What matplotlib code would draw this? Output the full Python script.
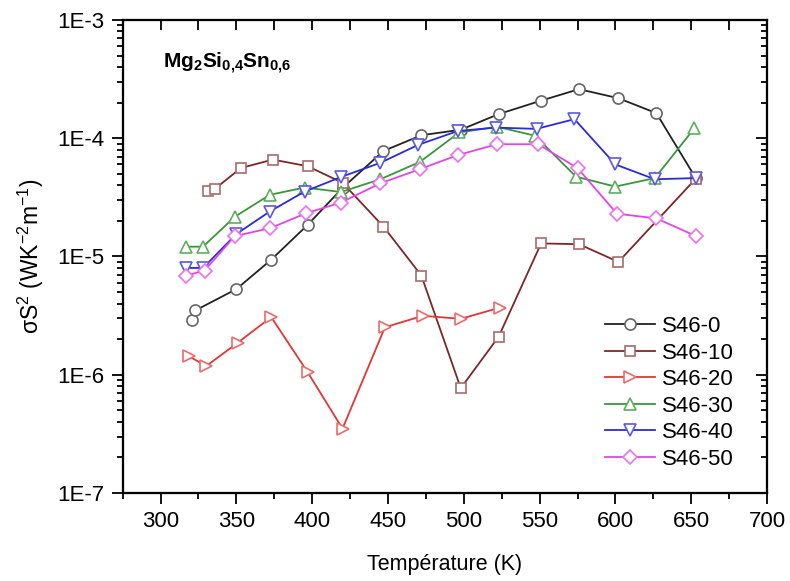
import matplotlib
matplotlib.use("Agg")
import matplotlib.pyplot as plt
from matplotlib.ticker import LogLocator, MultipleLocator, FixedLocator, FixedFormatter, NullFormatter

plt.rcParams['font.family'] = ['Liberation Sans', 'DejaVu Sans']
plt.rcParams['mathtext.fontset'] = 'custom'
plt.rcParams['mathtext.rm'] = 'Liberation Sans'
plt.rcParams['mathtext.it'] = 'Liberation Sans:italic'
plt.rcParams['mathtext.bf'] = 'Liberation Sans:bold'

labels = ["S46-0", "S46-10", "S46-20", "S46-30", "S46-40", "S46-50"]

T0 = [321, 323, 350, 373, 397, 420, 447, 472, 498, 523, 551, 576, 602, 627, 653]
v0 = [2.9e-6, 3.5e-6, 5.3e-6, 9.4e-6, 1.85e-5, 3.8e-5, 7.8e-5, 1.06e-4, 1.18e-4, 1.6e-4,
      2.08e-4, 2.6e-4, 2.18e-4, 1.63e-4, 4.6e-5]

T1 = [331, 336, 353, 374, 397, 420, 447, 472, 498, 523, 551, 576, 602, 653]
v1 = [3.6e-5, 3.75e-5, 5.6e-5, 6.6e-5, 5.8e-5, 4.2e-5, 1.79e-5, 6.9e-6, 7.7e-7, 2.1e-6,
      1.29e-5, 1.27e-5, 9.0e-6, 4.55e-5]

T2 = [319, 330, 351, 373, 397, 420, 448, 473, 498, 524]
v2 = [1.43e-6, 1.18e-6, 1.87e-6, 3.07e-6, 1.05e-6, 3.5e-7, 2.52e-6, 3.15e-6, 2.97e-6, 3.7e-6]

T3 = [317, 328, 349, 372, 395, 419, 445, 471, 497, 522, 547, 574, 600, 626, 652]
v3 = [1.21e-5, 1.21e-5, 2.17e-5, 3.32e-5, 3.83e-5, 3.51e-5, 4.5e-5, 6.3e-5, 1.12e-4, 1.25e-4,
      1.05e-4, 4.73e-5, 3.9e-5, 4.6e-5, 1.21e-4]

T4 = [317, 328, 350, 372, 395, 419, 445, 470, 496, 521, 548, 573, 600, 626, 653]
v4 = [8.0e-6, 8.0e-6, 1.55e-5, 2.4e-5, 3.54e-5, 4.7e-5, 6.2e-5, 8.8e-5, 1.15e-4, 1.23e-4,
      1.2e-4, 1.45e-4, 6.0e-5, 4.5e-5, 4.6e-5]

T5 = [317, 329, 349, 372, 396, 419, 445, 471, 496, 522, 549, 575, 601, 627, 653]
v5 = [6.9e-6, 7.6e-6, 1.49e-5, 1.73e-5, 2.32e-5, 2.86e-5, 4.16e-5, 5.47e-5, 7.2e-5, 8.9e-5,
      8.9e-5, 5.6e-5, 2.3e-5, 2.1e-5, 1.49e-5]

series_T = [T0, T1, T2, T3, T4, T5]
series_v = [v0, v1, v2, v3, v4, v5]
markers = ['o', 's', '>', '^', 'v', 'D']
msizes = [8, 7.5, 9, 9, 9, 7.5]
line_colors = ['#222222', '#7e2626', '#e53535', '#3a963a', '#2b2bd8', '#e544e5']
edge_colors = ['#666666', '#a86a6a', '#ec6a6a', '#5fae5f', '#5a5ae0', '#ee70ee']

ytick_vals = [1e-7, 1e-6, 1e-5, 1e-4, 1e-3]
ytick_labels = ["1E-7", "1E-6", "1E-5", "1E-4", "1E-3"]
xlim = (275, 700)
ylim = (1e-7, 1e-3)

fig = plt.figure(figsize=(7.9, 5.81), dpi=100)
ax = fig.add_axes([0.1553, 0.1515, 0.8156, 0.8141])

for T, v, m, ms, lc, ec, lab in zip(series_T, series_v, markers, msizes, line_colors, edge_colors, labels):
    ax.plot(T, v, color=lc, lw=1.3, marker=m, markersize=ms, markerfacecolor='white',
            markeredgecolor=ec, markeredgewidth=1.2, label=lab)

ax.set_yscale('log')
ax.set_xlim(*xlim)
ax.set_ylim(*ylim)

ax.xaxis.set_major_locator(MultipleLocator(50))
ax.xaxis.set_minor_locator(MultipleLocator(25))
ax.yaxis.set_major_locator(FixedLocator(ytick_vals))
ax.yaxis.set_major_formatter(FixedFormatter(ytick_labels))
ax.yaxis.set_minor_locator(LogLocator(base=10, subs=range(2, 10), numticks=20))
ax.yaxis.set_minor_formatter(NullFormatter())

ax.tick_params(which='both', direction='out', labelsize=16, width=1.3)
ax.tick_params(which='major', length=8, pad=5)
ax.tick_params(which='minor', length=4.5)
for s in ax.spines.values():
    s.set_linewidth(1.5)

# mirrored inward ticks on top and right
axr = ax.twinx()
axr.set_yscale('log')
axr.set_ylim(*ylim)
axr.yaxis.set_major_locator(FixedLocator(ytick_vals))
axr.yaxis.set_minor_locator(LogLocator(base=10, subs=range(2, 10), numticks=20))
axr.tick_params(which='both', direction='in', labelright=False, width=1.3)
axr.tick_params(which='major', length=8)
axr.tick_params(which='minor', length=4.5)
axt = ax.twiny()
axt.set_xlim(*xlim)
axt.xaxis.set_major_locator(MultipleLocator(25))
axt.tick_params(which='both', direction='in', labeltop=False, width=1.3, length=7)
for a in (axr, axt):
    for s in a.spines.values():
        s.set_linewidth(1.5)

ax.set_xlabel("Température (K)", fontsize=15.5, labelpad=16)
ax.set_ylabel("σS$^2$ (WK$^{-2}$m$^{-1}$)", fontsize=16.5, labelpad=8)

ax.text(0.062, 0.935, r"$\mathbf{Mg_2Si_{0{,}4}Sn_{0{,}6}}$", transform=ax.transAxes,
        fontsize=15, va='top', ha='left')

leg = ax.legend(loc='upper left', bbox_to_anchor=(605 / 790, 1 - 316 / 581),
                bbox_transform=fig.transFigure, frameon=False, fontsize=16,
                handlelength=2.25, handletextpad=0.32, labelspacing=0.25,
                borderpad=0, borderaxespad=0)

fig.savefig("out.png", dpi=100)
